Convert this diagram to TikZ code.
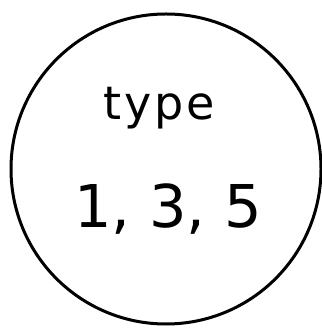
\documentclass[tikz,border=0pt]{standalone}
\usepackage{fontspec}
\setmainfont{DejaVu Sans}
\begin{document}
\begin{tikzpicture}[x=1pt, y=1pt,
  ring/.style={circle, draw=black, line width=3pt, minimum size=310pt,
               inner sep=0pt},
  tag/.style={inner sep=0pt, anchor=base}
]
  \useasboundingbox (0,0) rectangle (321,328);

  % Outer circle
  \node[ring] (typering) at (166,159) {};

  % Texts inside
  \node[tag, font=\fontsize{46}{50}\selectfont\addfontfeature{LetterSpace=6}]
    (typeword) at (159,208) {type};
  \node[tag, font=\fontsize{59}{64}\selectfont] (typenums) at (168,100) {1, 3, 5};
\end{tikzpicture}
\end{document}
